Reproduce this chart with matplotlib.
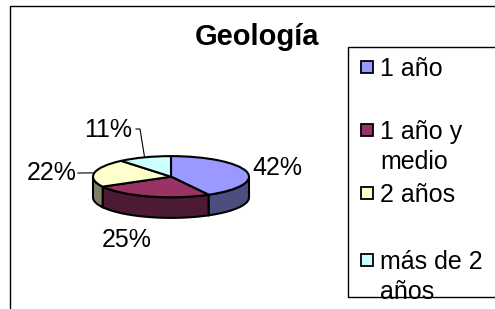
import matplotlib
matplotlib.use('Agg')
import matplotlib.pyplot as plt
import matplotlib.transforms as mtransforms
from matplotlib.patches import Rectangle, Polygon
import numpy as np

plt.rcParams['font.family'] = ['Liberation Sans', 'DejaVu Sans']

# data
categories = ['1 año', '1 año y\nmedio', '2 años', 'más de 2\naños']
percent = [42, 25, 22, 11]
top_colors = ['#9999FF', '#993366', '#FFFFCC', '#CCFFFF']
title = 'Geología'

W, H = 495, 309
fig = plt.figure(figsize=(W / 100, H / 100), dpi=100)
# pixel coords measured from top-left corner
px = mtransforms.Affine2D().scale(1 / W, -1 / H).translate(0, 1) + fig.transFigure


def fbox(x0, y0, x1, y1):
    return [x0 / W, 1 - y1 / H, (x1 - x0) / W, (y1 - y0) / H]


# chart area border (runs off right / bottom)
fig.add_artist(plt.Line2D([9.5, 9.5, W], [H, 5.5, 5.5],
                          transform=px, color='black', lw=1,
                          solid_capstyle='butt'))

fig.text(257, 45, title, transform=px, ha='center', va='baseline',
         fontsize=21, fontweight='bold')

# 3d-ish pie: squashed pie plus side walls
ax = fig.add_axes(fbox(93, 152, 249, 222))
depth = 1.0
wedges, _ = ax.pie(percent, colors=top_colors, startangle=90, counterclock=False,
                   wedgeprops=dict(edgecolor='black', linewidth=1.5, zorder=3))
ax.set_aspect('auto')
ax.set_xlim(-1, 1)
ax.set_ylim(-2.2, 1.2)
ax.axis('off')

for w, c in zip(wedges, top_colors):
    w.set_clip_on(False)
    side = np.array(matplotlib.colors.to_rgb(c)) * 0.5
    for shift in (-360, 0, 360):
        lo = max(w.theta1 + shift, 180)
        hi = min(w.theta2 + shift, 360)
        if hi > lo:
            t = np.radians(np.linspace(lo, hi, 80))
            xs, ys = np.cos(t), np.sin(t)
            verts = np.concatenate([np.c_[xs, ys], np.c_[xs[::-1], ys[::-1] - depth]])
            ax.add_patch(Polygon(verts, closed=True, fc=side, ec='black',
                                 lw=1.5, zorder=2, clip_on=False))

# percentage labels
label_pos = [(277, 175), (127, 247), (52, 180), (108, 137)]
for p, (lx, ly) in zip(percent, label_pos):
    fig.text(lx, ly, f'{p}%', transform=px, ha='center', va='baseline', fontsize=18)

# leader lines for the small slices
leaders = {3: [(136, 129), (140, 129)], 2: [(78, 173), (82, 173)]}
for i, knee in leaders.items():
    mid = np.radians((wedges[i].theta1 + wedges[i].theta2) / 2)
    disp = ax.transData.transform((np.cos(mid), np.sin(mid)))
    end = px.inverted().transform(disp)
    pts = knee + [tuple(end)]
    fig.add_artist(plt.Line2D([q[0] for q in pts], [q[1] for q in pts],
                              transform=px, color='black', lw=0.8))

# legend (open on the right, cut by the image edge)
fig.add_artist(plt.Line2D([W, 347.5, 347.5, W], [46.5, 46.5, 297, 297],
                          transform=px, color='black', lw=1,
                          solid_capstyle='butt'))
line_y = [[67], [130, 160], [193], [260, 290]]
for cat, c, ys in zip(categories, top_colors, line_y):
    fig.add_artist(Rectangle((361, ys[0] - 6), 12, 12, transform=px, fc=c,
                             ec='black', lw=1.3))
    for txt, y in zip(cat.split('\n'), ys):
        fig.text(380, y + 9, txt, transform=px, ha='left', va='baseline', fontsize=18)

fig.savefig('out.png', dpi=100)
